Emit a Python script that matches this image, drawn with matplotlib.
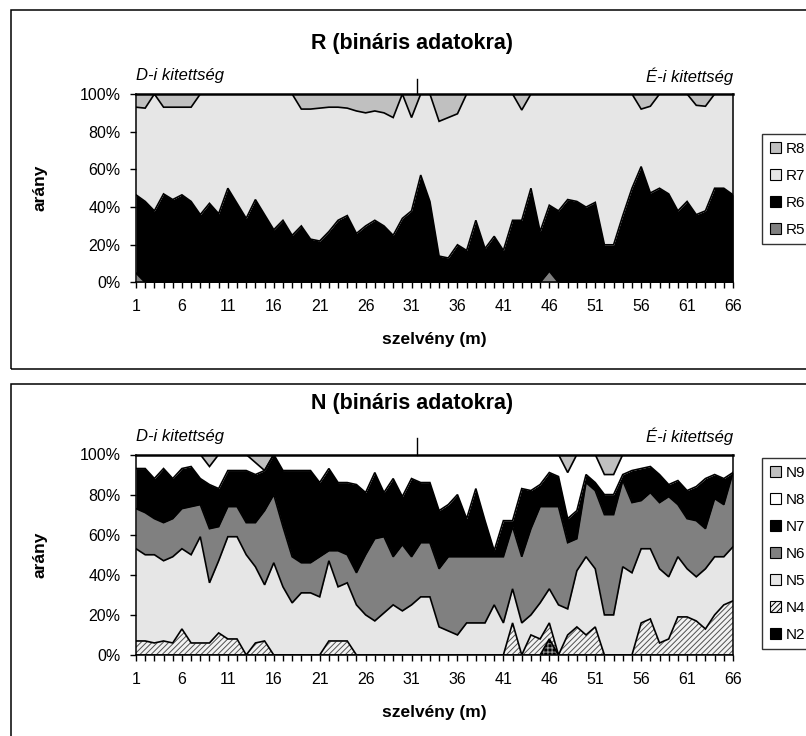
import numpy as np
import matplotlib
matplotlib.use("Agg")
import matplotlib.pyplot as plt
from matplotlib.patches import Patch, Rectangle

plt.rcParams['font.family'] = ['Liberation Sans', 'DejaVu Sans']
plt.rcParams['hatch.linewidth'] = 0.7

# szelvény (m), 1..66
x = np.arange(1, 67)
xtick_labels = [str(v) if (v - 1) % 5 == 0 else "" for v in x]
ytick_vals = [0, 20, 40, 60, 80, 100]

# R (bináris adatokra) -- percentages per category
R5 = [5, 0, 0, 0, 0, 0, 0, 0, 0, 0, 0, 0, 0, 0, 0, 0, 0, 0, 0, 0, 0, 0,
      0, 0, 0, 0, 0, 0, 0, 0, 0, 0, 0, 0, 0, 0, 0, 0, 0, 0, 0, 0, 0, 0,
      0, 6, 0, 0, 0, 0, 0, 0, 0, 0, 0, 0, 0, 0, 0, 0, 0, 0, 0, 0, 0, 0]
R6 = [41.5, 43, 38, 47, 44, 46.5, 43, 36, 42, 36.5, 50, 42, 34, 44, 36, 28,
      33, 25, 30, 23, 22, 27, 33, 35.5, 26, 30, 33, 30, 25, 34, 38, 57, 43,
      14, 13, 20, 17, 33, 18, 24.5, 17, 33, 33, 50, 27, 35, 38, 44, 43, 40,
      42.5, 20, 20, 35.5, 50, 61.5, 47.5, 50, 47, 38, 43, 36, 38, 50, 50, 46.5]
R7 = [46.5, 49.5, 62, 46, 49, 46.5, 50, 64, 58, 63.5, 50, 58, 66, 56, 64, 72,
      67, 75, 62, 69, 70.5, 66, 60, 57, 65, 60, 58, 60, 62.5, 66, 49.5, 43,
      57, 71.5, 74.5, 69.5, 83, 67, 82, 75.5, 83, 67, 58.5, 50, 73, 59, 62,
      56, 57, 60, 57.5, 80, 80, 64.5, 50, 30.5, 46, 50, 53, 62, 57, 58, 55.5,
      50, 50, 53.5]
R8 = [7, 7.5, 0, 7, 7, 7, 7, 0, 0, 0, 0, 0, 0, 0, 0, 0, 0, 0, 8, 8, 7.5, 7,
      7, 7.5, 9, 10, 9, 10, 12.5, 0, 12.5, 0, 0, 14.5, 12.5, 10.5, 0, 0, 0,
      0, 0, 0, 8.5, 0, 0, 0, 0, 0, 0, 0, 0, 0, 0, 0, 0, 8, 6.5, 0, 0, 0, 0,
      6, 6.5, 0, 0, 0]

# N (bináris adatokra)
N2 = [0, 0, 0, 0, 0, 0, 0, 0, 0, 0, 0, 0, 0, 0, 0, 0, 0, 0, 0, 0, 0, 0,
      0, 0, 0, 0, 0, 0, 0, 0, 0, 0, 0, 0, 0, 0, 0, 0, 0, 0, 0, 0, 0, 0,
      0, 8, 0, 0, 0, 0, 0, 0, 0, 0, 0, 0, 0, 0, 0, 0, 0, 0, 0, 0, 0, 0]
N4 = [7, 7, 6, 7, 6, 13, 6, 6, 6, 11, 8, 8, 0, 6, 7, 0, 0, 0, 0, 0, 0, 7,
      7, 7, 0, 0, 0, 0, 0, 0, 0, 0, 0, 0, 0, 0, 0, 0, 0, 0, 0, 16, 0, 10,
      8, 8, 0, 10, 14, 10, 14, 0, 0, 0, 0, 16, 18, 6, 8, 19, 19, 17, 13, 20,
      25, 27]
N5 = [46, 43, 44, 40, 43, 40, 44, 53, 30, 36, 51, 51, 50, 38, 28, 46, 34,
      26, 31, 31, 29, 40, 27, 29, 25, 20, 17, 21, 25, 22, 25, 29, 29, 14, 12,
      10, 16, 16, 16, 25, 16, 17, 16, 10, 18, 17, 25, 13, 28, 39, 29, 20, 20,
      44, 41, 37, 35, 37, 31, 30, 24, 22, 30, 29, 24, 27]
N6 = [20, 21, 18, 19, 19, 20, 24, 16, 27, 17, 15, 15, 16, 22, 37, 34, 30,
      23, 15, 15, 20, 5, 18, 14, 16, 30, 41, 38, 24, 33, 24, 27, 27, 29, 37,
      39, 33, 33, 33, 24, 33, 31, 33, 43, 48, 41, 49, 33, 16, 37, 39, 50, 50,
      43, 35, 24, 28, 33, 40, 26, 25, 28, 20, 29, 26, 37]
N7 = [20, 22, 20, 27, 20, 20, 20, 13, 22, 19, 18, 18, 26, 24, 20, 20, 28,
      43, 46, 46, 37, 41, 34, 36, 44, 31, 33, 22, 39, 24, 39, 30, 30, 29, 26,
      31, 19, 34, 18, 3, 18, 3, 34, 19, 11, 17, 15, 12, 14, 4, 4, 10, 10, 3,
      16, 16, 13, 14, 6, 12, 14, 17, 25, 12, 13, 0]
N8 = [7, 7, 12, 7, 12, 7, 6, 12, 9, 17, 8, 8, 8, 6, 0, 0, 8, 8, 8, 8, 14,
      7, 14, 14, 15, 19, 9, 19, 12, 21, 12, 14, 14, 28, 25, 20, 32, 17, 33,
      48, 33, 33, 17, 18, 15, 9, 11, 23, 28, 10, 14, 10, 10, 10, 8, 7, 6, 10,
      15, 13, 18, 16, 12, 10, 12, 9]
N9 = [0, 0, 0, 0, 0, 0, 0, 0, 6, 0, 0, 0, 0, 4, 8, 0, 0, 0, 0, 0, 0, 0,
      0, 0, 0, 0, 0, 0, 0, 0, 0, 0, 0, 0, 0, 0, 0, 0, 0, 0, 0, 0, 0, 0,
      0, 0, 0, 9, 0, 0, 0, 10, 10, 0, 0, 0, 0, 0, 0, 0, 0, 0, 0, 0, 0, 0]

DOTS = '#e6e6e6'
# (facecolor, hatch colour, hatch)
styles = {
    'R5': ('#808080', '#808080', None),
    'R6': ('black', 'black', None),
    'R7': (DOTS, DOTS, None),
    'R8': ('#c0c0c0', '#c0c0c0', None),
    'N2': ('black', '#9a9a9a', '++++'),
    'N4': ('#f2f2f2', '#505050', '//////'),
    'N5': (DOTS, DOTS, None),
    'N6': ('#808080', '#808080', None),
    'N7': ('black', 'black', None),
    'N8': ('white', 'white', None),
    'N9': ('#c0c0c0', '#c0c0c0', None),
}

W, H = 806, 736
fig = plt.figure(figsize=(W / 100, H / 100), dpi=100)


def px(xp, yp):
    return xp / W, 1 - yp / H


def draw_panel(rect, names, series, title, title_y, xlabel_y, leg_top):
    ax = fig.add_axes(rect)
    data = np.array(series, dtype=float)
    pct = data / data.sum(axis=0) * 100
    cum = np.vstack([np.zeros(len(x)), np.cumsum(pct, axis=0)])
    for k, name in enumerate(names):
        fc, hc, hatch = styles[name]
        ax.fill_between(x, cum[k], cum[k + 1], facecolor=fc, edgecolor=hc,
                        hatch=hatch, linewidth=0)
    for k in range(1, len(cum)):
        ax.plot(x, cum[k], color='black', lw=1.2, solid_joinstyle='miter')
    ax.set_xlim(1, 66)
    ax.set_ylim(0, 100)
    ax.set_xticks(x)
    ax.set_xticklabels(xtick_labels, fontsize=11.5)
    ax.set_yticks(ytick_vals)
    ax.set_yticklabels([f"{v}%" for v in ytick_vals], fontsize=11.5)
    ax.tick_params(axis='x', length=4, width=1, pad=8)
    ax.tick_params(axis='y', length=4, width=1, pad=7)
    for s in ['left', 'bottom', 'right']:
        ax.spines[s].set_linewidth(1.1)
    ax.spines['top'].set_linewidth(1.8)

    ax.annotate('D-i kitettség', xy=(0, 1), xycoords='axes fraction',
                xytext=(0, 13), textcoords='offset points', ha='left',
                va='center', fontsize=12, style='italic')
    ax.annotate('É-i kitettség', xy=(1, 1), xycoords='axes fraction',
                xytext=(0, 13), textcoords='offset points', ha='right',
                va='center', fontsize=12, style='italic')
    ax.plot([31.6, 31.6], [100, 108], color='black', lw=1, clip_on=False)

    fig.text(412 / W, 1 - title_y / H, title, ha='center', va='center',
             fontsize=15.5, fontweight='bold')
    fig.text(434 / W, 1 - xlabel_y / H, 'szelvény (m)', ha='center',
             va='center', fontsize=12.5, fontweight='bold')
    y0 = 1 - rect[1] - rect[3] / 2
    fig.text(40 / W, 1 - y0, 'arány', ha='center', va='center',
             rotation=90, fontsize=12.5, fontweight='bold')

    handles = []
    for name in reversed(names):
        fc, hc, hatch = styles[name]
        handles.append(Patch(facecolor=fc, edgecolor='black', hatch=hatch,
                             linewidth=0.8, label=name))
    leg = fig.legend(handles=handles, loc='upper left',
                     bbox_to_anchor=px(762, leg_top), fontsize=11,
                     frameon=True, fancybox=False, edgecolor='black',
                     handlelength=0.75, handleheight=0.75, handletextpad=0.3,
                     labelspacing=0.85, borderpad=0.5, borderaxespad=0)
    leg.get_frame().set_linewidth(1)
    return ax


# chart area boxes
fig.patches.append(Rectangle(px(10.5, 369), 1, 359 / H, transform=fig.transFigure,
                             fill=False, edgecolor='black', lw=1.1))
fig.patches.append(Rectangle(px(10.5, 760), 1, 376 / H, transform=fig.transFigure,
                             fill=False, edgecolor='black', lw=1.1))

top_rect = [136 / W, 1 - 282.5 / H, 597 / W, 188.5 / H]
bot_rect = [136 / W, 1 - 655 / H, 597 / W, 200.5 / H]

draw_panel(top_rect, ['R5', 'R6', 'R7', 'R8'], [R5, R6, R7, R8],
           'R (bináris adatokra)', 43, 340, 134)
draw_panel(bot_rect, ['N2', 'N4', 'N5', 'N6', 'N7', 'N8', 'N9'],
           [N2, N4, N5, N6, N7, N8, N9],
           'N (bináris adatokra)', 403, 712, 458)

fig.savefig('out.png', dpi=100)
